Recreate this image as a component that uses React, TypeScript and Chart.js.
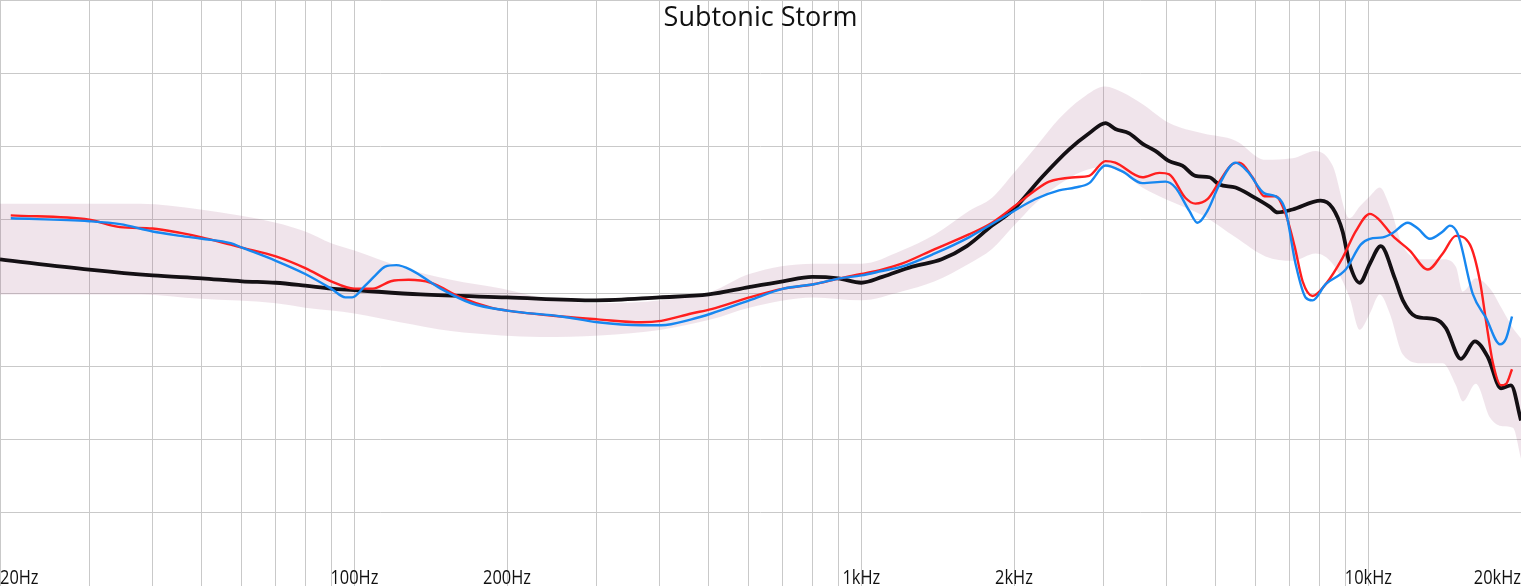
import { useEffect, useRef } from "react"
import { Chart, registerables } from "chart.js"

// Register Chart.js components
Chart.register(...registerables)

const titleText = "Subtonic Storm"

// x axis: grid lines and labels (Hz)
const gridFreqs = [20, 30, 40, 50, 60, 70, 80, 90, 100, 200, 300, 400, 500, 600, 700, 800, 900, 1000, 2000, 3000, 4000, 5000, 6000, 7000, 8000, 9000, 10000, 20000]
const labelFreqs = [20, 100, 200, 1000, 2000, 10000, 20000]
const labelTexts = ["20Hz", "100Hz", "200Hz", "1kHz", "2kHz", "10kHz", "20kHz"]

// target curve (black)
const targetFreq = [20, 30, 40, 50, 60, 70, 80, 90, 100, 135, 200, 300, 400, 500, 600, 700, 800, 900, 1000, 1100, 1260, 1440, 1614, 1810, 1982, 2270, 2570, 2814, 3030, 3168, 3375, 3581, 3800, 4048, 4296, 4558, 4858, 5083, 5470, 5907, 6384, 6620, 7085, 8050, 8500, 8895, 9180, 9614, 10068, 10580, 11277, 11695, 12398, 13580, 14220, 15220, 16220, 17220, 18260, 19110, 20000]
const targetDb = [62.3, 61.6, 61.2, 61.0, 60.8, 60.7, 60.5, 60.3, 60.2, 59.9, 59.7, 59.5, 59.7, 59.9, 60.4, 60.8, 61.1, 61.0, 60.7, 61.1, 61.8, 62.3, 63.2, 64.6, 65.6, 67.9, 69.8, 70.9, 71.6, 71.2, 70.9, 70.2, 69.7, 69.0, 68.7, 68.0, 67.9, 67.4, 67.2, 66.6, 65.9, 65.5, 65.7, 66.3, 65.8, 64.2, 62.0, 60.7, 62.0, 63.2, 61.0, 59.5, 58.4, 58.2, 57.6, 55.5, 56.7, 55.6, 53.5, 53.7, 51.3]

// left channel (red)
const redFreq = [21, 30, 34.5, 40, 45.4, 50, 57, 60, 70, 80, 90, 100, 108.7, 118, 128, 141.5, 162, 186, 200, 256, 302, 368, 403, 462, 506, 601, 702, 805, 906, 1000, 1097, 1201, 1396, 1630, 1810, 2000, 2200, 2346, 2640, 2814, 3030, 3168, 3581, 3870, 4048, 4354, 4558, 4815, 5083, 5394, 5568, 5907, 6238, 6561, 6866, 7152, 7418, 7761, 8236, 8895, 9440, 10068, 10435, 11170, 12070, 13100, 14020, 14880, 15860, 16600, 17060, 17610, 18260, 18690, 19200]
const redDb = [65.3, 65.0, 64.5, 64.4, 64.1, 63.8, 63.3, 63.1, 62.5, 61.7, 60.8, 60.3, 60.3, 60.8, 60.9, 60.7, 59.7, 59.0, 58.8, 58.4, 58.2, 58.0, 58.1, 58.6, 58.9, 59.7, 60.3, 60.6, 61.0, 61.3, 61.6, 62.0, 63.0, 64.0, 64.8, 65.9, 67.0, 67.6, 67.9, 68.0, 69.0, 68.9, 67.9, 68.2, 68.1, 66.5, 66.1, 66.4, 67.6, 68.8, 68.9, 67.9, 66.6, 66.6, 65.4, 63.2, 60.8, 59.8, 60.6, 62.4, 64.2, 65.4, 65.1, 63.9, 62.9, 61.6, 62.7, 63.9, 63.3, 60.8, 58.1, 55.2, 53.7, 53.8, 54.8]

// right channel (blue)
const blueFreq = [21, 30, 34.5, 40, 45.4, 50, 57, 60, 70, 80, 90, 96, 99, 105, 110, 115, 121, 129, 148, 170, 200, 256, 302, 368, 403, 462, 506, 601, 702, 805, 906, 1000, 1097, 1201, 1396, 1630, 2000, 2200, 2454, 2640, 2814, 3030, 3270, 3581, 3977, 4162, 4435, 4600, 4815, 5083, 5470, 5776, 6238, 6561, 6866, 7184, 7518, 7761, 8236, 9020, 9658, 10068, 10675, 11170, 11960, 12520, 13220, 14020, 14480, 15020, 16080, 17060, 18180, 18690, 19200]
const blueDb = [65.1, 64.9, 64.7, 64.2, 63.9, 63.7, 63.4, 63.1, 62.2, 61.3, 60.3, 59.7, 59.7, 60.5, 61.2, 61.8, 61.9, 61.6, 60.3, 59.3, 58.8, 58.4, 58.0, 57.8, 57.8, 58.2, 58.6, 59.5, 60.3, 60.6, 61.0, 61.2, 61.5, 61.8, 62.7, 63.8, 65.6, 66.4, 67.0, 67.2, 67.5, 68.7, 68.3, 67.5, 67.6, 67.2, 65.6, 64.8, 65.6, 67.4, 68.9, 68.3, 66.8, 66.6, 65.6, 62.0, 59.7, 59.5, 60.6, 61.6, 63.3, 63.7, 63.8, 64.1, 64.8, 64.4, 63.7, 64.2, 64.6, 64.0, 59.9, 58.3, 56.5, 56.9, 58.4]

// shaded target range
const bandFreq = [20, 37.8, 49.7, 70, 80, 90, 100, 123, 155, 195, 233, 305, 403, 506, 601, 805, 1000, 1201, 1396, 1630, 1810, 2000, 2200, 2454, 2725, 3026, 3270, 3581, 4048, 4706, 5470, 6267, 7085, 7870, 8500, 9180, 9614, 10068, 10530, 11020, 11695, 12810, 14020, 14880, 15360, 16290, 17370, 18420, 19280, 20000]
const bandUpper = [66.1, 66.1, 65.7, 64.8, 64.2, 63.4, 62.9, 61.8, 60.9, 60.3, 59.7, 59.3, 59.5, 60.1, 61.3, 62.0, 62.0, 62.9, 64.0, 65.6, 66.5, 68.2, 69.9, 71.9, 73.3, 74.1, 73.7, 72.9, 71.6, 70.9, 70.4, 69.1, 69.2, 69.7, 68.7, 65.1, 65.9, 66.6, 67.2, 65.9, 63.2, 62.3, 62.3, 61.8, 60.1, 61.0, 60.3, 58.8, 57.6, 56.9]
const bandLower = [59.9, 59.9, 59.6, 59.3, 59.0, 58.8, 58.6, 58.0, 57.4, 57.1, 57.0, 57.1, 57.5, 58.2, 59.0, 59.7, 59.5, 60.1, 60.8, 62.0, 63.0, 64.6, 66.1, 67.4, 68.3, 68.6, 68.2, 67.2, 66.3, 65.3, 63.8, 62.5, 62.2, 62.7, 62.0, 59.7, 57.5, 58.6, 59.9, 58.6, 55.8, 55.2, 55.2, 53.7, 52.6, 53.8, 51.5, 50.9, 50.8, 48.7]

const toPoints = (freq: number[], db: number[]) => freq.map((f, i) => ({ x: f, y: db[i] }))

// title and frequency labels sit inside the plot, over the grid
const overlayPlugin = {
  id: "overlay",
  afterDraw(chart: Chart) {
    const { ctx, chartArea } = chart
    const x = chart.scales.x
    ctx.save()
    ctx.fillStyle = "#111"
    ctx.textBaseline = "alphabetic"
    ctx.font = '20px "Open Sans", sans-serif'
    labelFreqs.forEach((f, i) => {
      const px = x.getPixelForValue(f)
      const w = ctx.measureText(labelTexts[i]).width * 0.82
      ctx.textAlign = i === 0 ? "left" : i === labelFreqs.length - 1 ? "right" : "center"
      ctx.fillText(labelTexts[i], px, chartArea.bottom - 2, w)
    })
    ctx.font = '27px "Open Sans", sans-serif'
    ctx.textAlign = "center"
    ctx.fillText(titleText, (chartArea.left + chartArea.right) / 2, 26)
    ctx.restore()
  },
}

export default function App() {
  const chartRef = useRef<HTMLCanvasElement>(null)
  const chartInstance = useRef<Chart | null>(null)

  useEffect(() => {
    if (!chartRef.current) return
    if (chartInstance.current) chartInstance.current.destroy()
    const ctx = chartRef.current.getContext("2d")
    if (!ctx) return

    const line = (color: string, width: number, order: number) => ({
      borderColor: color,
      borderWidth: width,
      pointRadius: 0,
      fill: false,
      cubicInterpolationMode: "monotone" as const,
      order,
    })

    chartInstance.current = new Chart(ctx, {
      type: "line",
      data: {
        datasets: [
          {
            label: "range-upper",
            data: toPoints(bandFreq, bandUpper),
            borderWidth: 0,
            pointRadius: 0,
            backgroundColor: "rgba(155, 75, 122, 0.15)",
            fill: "+1",
            cubicInterpolationMode: "monotone",
            order: 10,
          },
          {
            label: "range-lower",
            data: toPoints(bandFreq, bandLower),
            borderWidth: 0,
            pointRadius: 0,
            fill: false,
            cubicInterpolationMode: "monotone",
            order: 11,
          },
          { label: "Target", data: toPoints(targetFreq, targetDb), ...line("#141014", 3.8, 3) },
          { label: "L", data: toPoints(redFreq, redDb), ...line("#ff1f1f", 2.4, 2) },
          { label: "R", data: toPoints(blueFreq, blueDb), ...line("#1787f0", 2.4, 1) },
        ],
      },
      options: {
        responsive: true,
        maintainAspectRatio: false,
        animation: false,
        layout: { padding: 0 },
        plugins: {
          legend: { display: false },
          tooltip: { enabled: false },
          title: { display: false },
        },
        scales: {
          x: {
            type: "logarithmic",
            min: 20,
            max: 20000,
            afterBuildTicks: (scale) => {
              scale.ticks = gridFreqs.map((v) => ({ value: v }))
            },
            ticks: { display: false },
            grid: { color: "#c9c9c9", lineWidth: 1, drawTicks: false },
            border: { display: false },
          },
          y: {
            type: "linear",
            min: 40,
            max: 80,
            ticks: { display: false, stepSize: 5 },
            grid: { color: "#c9c9c9", lineWidth: 1, drawTicks: false },
            border: { display: false },
          },
        },
      },
      plugins: [overlayPlugin],
    })

    return () => {
      if (chartInstance.current) {
        chartInstance.current.destroy()
        chartInstance.current = null
      }
    }
  }, [])

  return (
    <div style={{ position: "fixed", left: 0, top: 0, width: 1521, height: 586, background: "#fff" }}>
      <canvas ref={chartRef} aria-label="Subtonic Storm frequency response"></canvas>
    </div>
  )
}
